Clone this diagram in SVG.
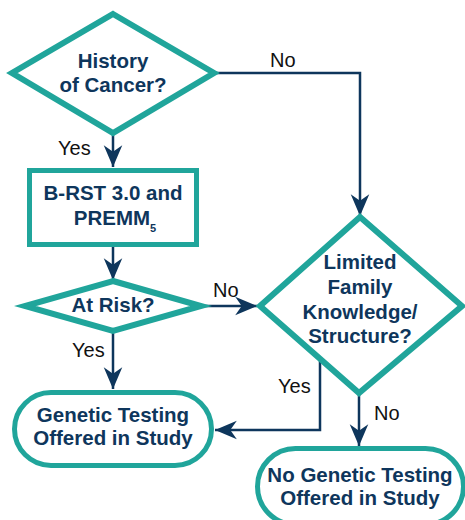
<svg xmlns="http://www.w3.org/2000/svg" width="465" height="520" viewBox="0 0 465 520">
<style>
.shape{fill:#fff;stroke:#20a59b;stroke-width:6;stroke-linejoin:miter}
.box{fill:#fff;stroke:#20a59b;stroke-width:5}
.t{font-family:"Liberation Sans",Arial,sans-serif;font-weight:bold;font-size:20.5px;fill:#0e365c;text-anchor:middle}
.lbl{font-family:"Liberation Sans",Arial,sans-serif;font-size:20px;fill:#111}
.c{fill:none;stroke:#0e365c;stroke-width:2.5}
</style>
<defs>
<marker id="ah" markerUnits="userSpaceOnUse" markerWidth="24" markerHeight="20" viewBox="-21 -9 22 18" refX="0" refY="0" orient="auto">
<path d="M0,0 L-20,-8.5 L-14,0 L-20,8.5 Z" fill="#0e365c"/>
</marker>
</defs>
<g id="connectors">
<path class="c" d="M113,134 V167" marker-end="url(#ah)"/>
<path class="c" d="M214,73 H360 V216" marker-end="url(#ah)"/>
<path class="c" d="M113,246 V280" marker-end="url(#ah)"/>
<path class="c" d="M201,306 H257" marker-end="url(#ah)"/>
<path class="c" d="M113,332 V389" marker-end="url(#ah)"/>
<path class="c" d="M320,360 V430 H215" marker-end="url(#ah)"/>
<path class="c" d="M359,394 V446" marker-end="url(#ah)"/>
<text class="lbl" x="58" y="155">Yes</text>
<text class="lbl" x="270" y="67">No</text>
<text class="lbl" x="213" y="297">No</text>
<text class="lbl" x="72" y="357">Yes</text>
<text class="lbl" x="278" y="393">Yes</text>
<text class="lbl" x="374" y="420">No</text>
</g>
<g id="history">
<polygon class="shape" points="113,14 214,73 113,133 12,73"/>
<text class="t" x="113" y="68">History</text>
<text class="t" x="113" y="92">of Cancer?</text>
</g>
<g id="brst">
<rect class="box" x="29.5" y="170.5" width="167" height="74"/>
<text class="t" x="113" y="200">B-RST 3.0 and</text>
<text class="t" x="115" y="225">PREMM<tspan font-size="11" dy="7">5</tspan></text>
</g>
<g id="atrisk">
<polygon class="shape" points="113,281 201,306 113,331 25,306"/>
<text class="t" x="113" y="312">At Risk?</text>
</g>
<g id="limited">
<polygon class="shape" points="360,217 462,306 359,393 260,306"/>
<text class="t" x="360" y="269">Limited</text>
<text class="t" x="360" y="294">Family</text>
<text class="t" x="360" y="319">Knowledge/</text>
<text class="t" x="360" y="343">Structure?</text>
</g>
<g id="genetic">
<rect class="box" x="14.5" y="392.5" width="197" height="73" rx="36.5"/>
<text class="t" x="113" y="422">Genetic Testing</text>
<text class="t" x="113" y="445">Offered in Study</text>
</g>
<g id="nogenetic">
<rect class="box" x="257.5" y="448.5" width="206" height="76" rx="38"/>
<text class="t" x="360" y="482">No Genetic Testing</text>
<text class="t" x="360" y="505">Offered in Study</text>
</g>
</svg>
